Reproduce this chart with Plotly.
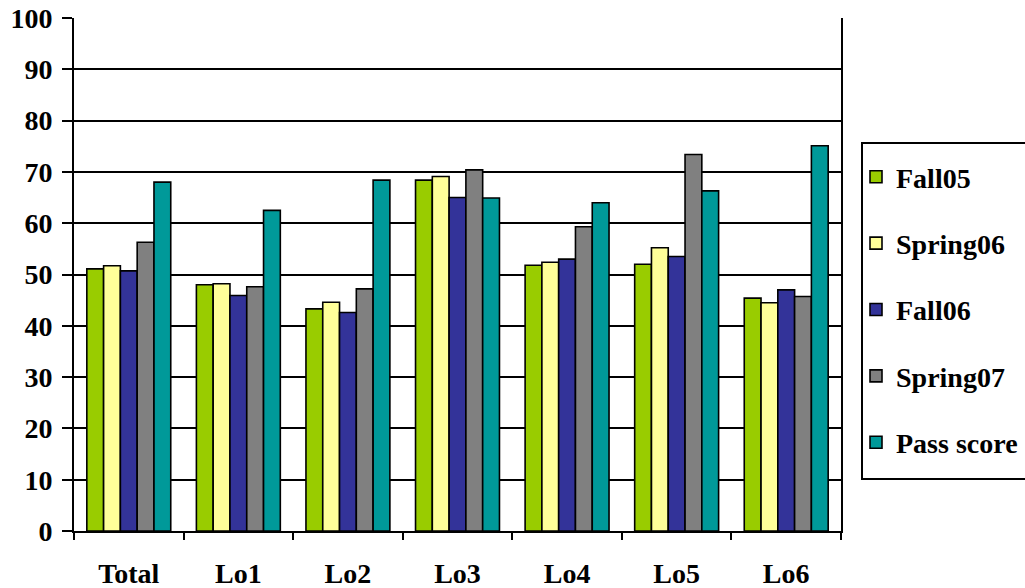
import plotly.graph_objects as go

# Scores per learning outcome, by term
categories = ["Total", "Lo1", "Lo2", "Lo3", "Lo4", "Lo5", "Lo6"]
fall05 = [51.1, 48.0, 43.3, 68.4, 51.8, 52.0, 45.4]
spring06 = [51.7, 48.2, 44.6, 69.1, 52.4, 55.2, 44.5]
fall06 = [50.7, 45.9, 42.6, 65.0, 53.0, 53.5, 47.0]
spring07 = [56.3, 47.6, 47.2, 70.4, 59.3, 73.4, 45.7]
pass_score = [68.0, 62.5, 68.4, 64.9, 64.0, 66.3, 75.1]

series_names = ["Fall05", "Spring06", "Fall06", "Spring07", "Pass score"]
series_values = [fall05, spring06, fall06, spring07, pass_score]
series_colors = ["#99CC00", "#FFFF99", "#333399", "#808080", "#009999"]

SERIF = "Liberation Serif"
bold_font = dict(family=SERIF, size=28, color="black", weight="bold")

fig = go.Figure()
for i, (name, vals, col) in enumerate(zip(series_names, series_values, series_colors)):
    fig.add_trace(go.Bar(
        x=categories, y=vals, name=name,
        marker=dict(color=col, line=dict(color="black", width=1.6)),
        legendgroup=f"g{i}",
    ))

W, H = 1025, 588
L, R, T, B = 74, 184, 18, 57
pw, ph = W - L - R, H - T - B


def px_x(px):
    return (px - L) / pw


def px_y(py):
    return (H - B - py) / ph


# legend frame, extending past the right edge of the page
fig.add_shape(
    type="rect", xref="paper", yref="paper",
    x0=px_x(862), x1=px_x(1040), y0=px_y(479), y1=px_y(143),
    line=dict(color="black", width=2), fillcolor="white", layer="below",
)

fig.update_layout(
    width=W, height=H,
    margin=dict(l=L, r=R, t=T, b=B, autoexpand=False),
    paper_bgcolor="white", plot_bgcolor="white",
    barmode="group", bargap=0.234, bargroupgap=0,
    font=bold_font,
    showlegend=True,
    legend=dict(
        x=px_x(856), y=px_y(152), xanchor="left", yanchor="top",
        bgcolor="rgba(0,0,0,0)", borderwidth=0,
        font=bold_font,
        tracegroupgap=27, itemwidth=30,
    ),
)

fig.update_yaxes(
    range=[0, 100], dtick=10, tick0=0,
    showgrid=True, gridcolor="black", gridwidth=2,
    zeroline=False,
    showline=True, linecolor="black", linewidth=2, mirror=True,
    ticks="outside", ticklen=10, tickwidth=2, tickcolor="black",
    tickfont=bold_font,
    ticklabelstandoff=4,
)
fig.update_xaxes(
    showgrid=False, zeroline=False,
    showline=True, linecolor="black", linewidth=2,
    ticks="outside", tickson="boundaries", ticklen=7, tickwidth=2, tickcolor="black",
    tickfont=bold_font,
    ticklabelstandoff=16,
)

fig.write_html("out.html")
